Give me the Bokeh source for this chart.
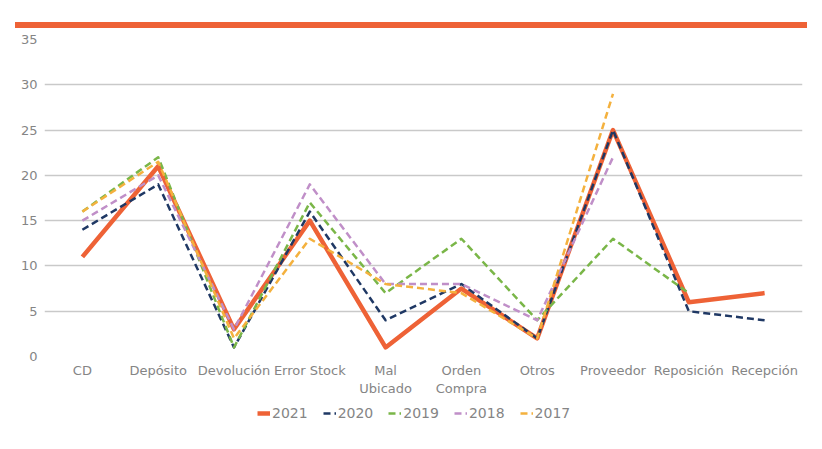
from bokeh.plotting import figure
from bokeh.models import Legend, LegendItem, Div, FixedTicker, LinearAxis, Range1d
from bokeh.layouts import column
from bokeh.embed import file_html
from bokeh.resources import INLINE

categories = ["CD", "Depósito", "Devolución", "Error Stock", "Mal Ubicado",
              "Orden Compra", "Otros", "Proveedor", "Reposición", "Recepción"]
line1_labels = ["CD", "Depósito", "Devolución", "Error Stock", "Mal",
                "Orden", "Otros", "Proveedor", "Reposición", "Recepción"]
line2_labels = {4: "Ubicado", 5: "Compra"}
y_ticks = [0, 5, 10, 15, 20, 25, 30, 35]

s2021 = [11, 21, 3, 15, 1, 7.5, 2, 25, 6, 7]
s2020 = [14, 19, 1, 16, 4, 8, 2, 25, 5, 4]
s2019 = [16, 22, 1, 17, 7, 13, 4, 13, 7]
s2018 = [15, 20, 3, 19, 8, 8, 4, 22]
s2017 = [16, 21.5, 2, 13, 8, 7, 2, 29]

series = [
    ("2021", s2021, "#EE6236", 4.5, "solid"),
    ("2020", s2020, "#1F3864", 2.5, "7 4"),
    ("2019", s2019, "#7AB648", 2.5, "7 4"),
    ("2018", s2018, "#C08FC8", 2.5, "7 4"),
    ("2017", s2017, "#F4B13E", 2.5, "7 4"),
]

FONT = "DejaVu Sans"
GRAY = "#858585"

pos = list(range(len(categories)))
p = figure(x_range=(-0.5, len(categories) - 0.5), y_range=(0, 35),
           frame_width=758, frame_height=317,
           output_backend="svg", toolbar_location=None,
           min_border_left=44, min_border_right=12, min_border_top=11,
           min_border_bottom=45)
p.outline_line_color = None
p.xgrid.grid_line_color = None
p.ygrid.grid_line_color = "#C9C9C9"
p.ygrid.grid_line_width = 1.6
p.yaxis.ticker = FixedTicker(ticks=y_ticks)
p.xaxis.ticker = FixedTicker(ticks=pos)
p.xaxis.major_label_overrides = {i: t for i, t in zip(pos, line1_labels)}

second = LinearAxis(ticker=FixedTicker(ticks=list(line2_labels.keys())),
                    major_label_overrides=line2_labels)
p.add_layout(second, "below")

for ax in (p.xaxis[0], p.yaxis[0], second):
    ax.axis_line_color = None
    ax.major_tick_line_color = None
    ax.minor_tick_line_color = None
    ax.major_tick_out = 0
    ax.major_tick_in = 0
    ax.minor_tick_out = 0
    ax.minor_tick_in = 0
    ax.major_label_text_font = FONT
    ax.major_label_text_font_size = "13px"
    ax.major_label_text_color = GRAY
p.yaxis.major_label_standoff = 7
p.xaxis[0].major_label_standoff = 6
second.major_label_standoff = 0

for name, vals, color, w, dash in series:
    p.line(pos[:len(vals)], vals, line_color=color, line_width=w,
           line_dash=dash, line_join="round")

# legend strip below the chart (its ranges keep the series lines out of view)
lg = figure(width=814, height=24, output_backend="svg", toolbar_location=None,
            x_range=Range1d(100, 101), y_range=Range1d(100, 101),
            min_border_left=44, min_border_right=12, min_border_top=0,
            min_border_bottom=0)
lg.axis.visible = False
lg.grid.visible = False
lg.outline_line_color = None
items = []
for name, vals, color, w, dash in series:
    r = lg.line(pos[:len(vals)], vals, line_color=color, line_width=w,
                line_dash=dash)
    items.append(LegendItem(label=name, renderers=[r]))
legend = Legend(items=items, orientation="horizontal", location=(213, 4),
                label_text_font=FONT, label_text_font_size="14px",
                label_text_color=GRAY, glyph_width=13, glyph_height=16,
                label_standoff=2, spacing=15, padding=0, margin=0,
                border_line_color=None, background_fill_alpha=0)
lg.add_layout(legend, "center")

bar = Div(text="", width=792, height=6, margin=(22, 0, 0, 15),
          styles={"background-color": "#EE6236"})

layout = column(bar, p, lg, spacing=0)
open("out.html", "w").write(file_html(layout, INLINE))
